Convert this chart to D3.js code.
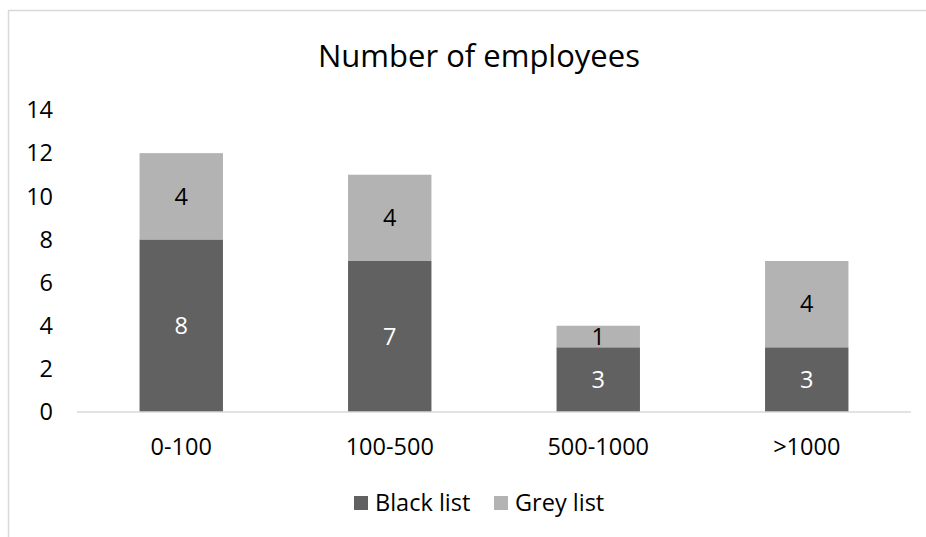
<!DOCTYPE html>
<html>
<head>
<meta charset="utf-8">
<script src="https://cdn.jsdelivr.net/npm/d3@7"></script>
<style>
  body { margin: 0; background: #fff; }
  svg text { font-family: "Open Sans", "Noto Sans", sans-serif; }
</style>
</head>
<body>
<svg id="chart"></svg>
<script>
let width = 926;
let height = 537;

let categories = ['0-100', '100-500', '500-1000', '>1000'];
let blackList = [8, 7, 3, 3];
let greyList = [4, 4, 1, 4];
let yTicks = [0, 2, 4, 6, 8, 10, 12, 14];
let seriesNames = ['Black list', 'Grey list'];
let colors = ['#616161', '#b3b3b3'];
let labelColors = ['#ffffff', '#000000'];

let table = categories.map((c, i) => ({ cat: c, 'Black list': blackList[i], 'Grey list': greyList[i] }));
let stacked = d3.stack().keys(seriesNames)(table);

let fontSize = 23.5;

let svg = d3.select('#chart')
    .attr('width', width)
    .attr('height', height);

// chart border
svg.append('rect')
    .attr('x', 8.5)
    .attr('y', 10.5)
    .attr('width', 940)
    .attr('height', 560)
    .attr('fill', 'none')
    .attr('stroke', '#d9d9d9')
    .attr('stroke-width', 1.5);

let xScale = d3.scaleBand()
    .domain(categories)
    .range([77, 911])
    .paddingInner(0.6)
    .paddingOuter(0.3);

let yScale = d3.scaleLinear()
    .domain([0, 14])
    .range([412, 110]);

// title
svg.append('text')
    .attr('x', 479)
    .attr('y', 67)
    .attr('text-anchor', 'middle')
    .attr('font-size', 31)
    .attr('fill', '#000')
    .text('Number of employees');

// y labels
svg.selectAll('.ylab')
    .data(yTicks)
    .enter()
    .append('text')
        .attr('x', 53)
        .attr('y', d => yScale(d))
        .attr('dy', '0.35em')
        .attr('text-anchor', 'end')
        .attr('font-size', fontSize)
        .text(d => d);

// bars
let layers = svg.selectAll('.layer')
    .data(stacked)
    .enter()
    .append('g')
        .attr('fill', (d, i) => colors[i]);

layers.selectAll('rect')
    .data(d => d)
    .enter()
    .append('rect')
        .attr('x', d => xScale(d.data.cat))
        .attr('y', d => yScale(d[1]))
        .attr('width', xScale.bandwidth())
        .attr('height', d => yScale(d[0]) - yScale(d[1]));

// data labels
stacked.forEach((layer, li) => {
    svg.selectAll('.lab' + li)
        .data(layer)
        .enter()
        .append('text')
            .attr('x', d => xScale(d.data.cat) + xScale.bandwidth() / 2)
            .attr('y', d => yScale((d[0] + d[1]) / 2))
            .attr('dy', '0.35em')
            .attr('text-anchor', 'middle')
            .attr('font-size', fontSize)
            .attr('fill', labelColors[li])
            .text(d => d[1] - d[0]);
});

// x axis line
svg.append('line')
    .attr('x1', 77)
    .attr('x2', 911)
    .attr('y1', yScale(0))
    .attr('y2', yScale(0))
    .attr('stroke', '#d9d9d9')
    .attr('stroke-width', 1.5);

// category labels
svg.selectAll('.xlab')
    .data(categories)
    .enter()
    .append('text')
        .attr('x', d => xScale(d) + xScale.bandwidth() / 2)
        .attr('y', 447)
        .attr('dy', '0.35em')
        .attr('text-anchor', 'middle')
        .attr('font-size', fontSize)
        .text(d => d);

// legend
let legend = svg.selectAll('.leg')
    .data(seriesNames)
    .enter()
    .append('g')
        .attr('transform', (d, i) => `translate(${i === 0 ? 354 : 494}, 503)`);

legend.append('rect')
    .attr('x', 0)
    .attr('y', -7)
    .attr('width', 14)
    .attr('height', 14)
    .attr('fill', (d, i) => colors[i]);

legend.append('text')
    .attr('x', 21)
    .attr('y', 0)
    .attr('dy', '0.35em')
    .attr('font-size', fontSize)
    .text(d => d);
</script>
</body>
</html>
